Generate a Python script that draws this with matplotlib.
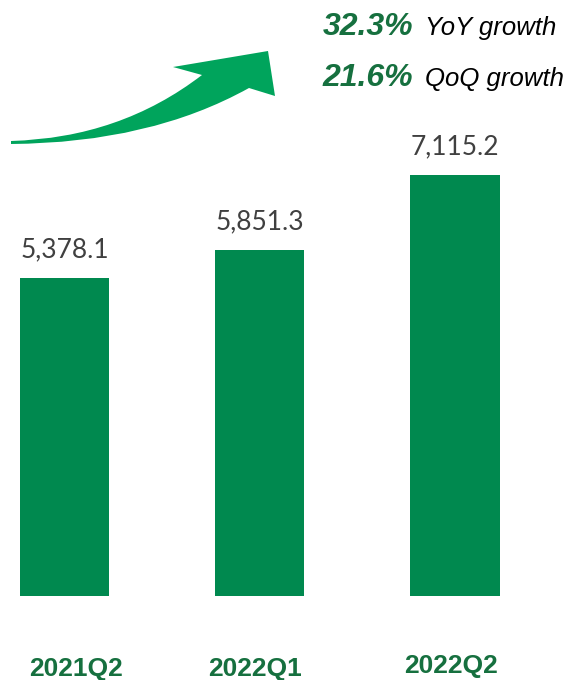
import matplotlib.pyplot as plt
from matplotlib.path import Path
from matplotlib.patches import PathPatch

# Data
quarters = ['2021Q2', '2022Q1', '2022Q2']
revenue = [5378.1, 5851.3, 7115.2]
yoy_growth = '32.3%'
qoq_growth = '21.6%'

# Colours
bar_green = '#00894F'
text_green = '#16703F'
arrow_green = '#00A45C'
value_grey = '#404040'

fig = plt.figure(figsize=(5.73, 6.80), dpi=100)

# Main bar axes: baseline sits 84 px above the bottom of the figure
ax = fig.add_axes([0, 84 / 680, 1, 596 / 680])
x = range(len(quarters))
bars = ax.bar(x, revenue, width=0.456, color=bar_green)
ax.set_xlim(-0.3303, 2.6044)
ax.set_ylim(0, 10068)
ax.axis('off')

# Value labels above the bars
for xi, v in zip(x, revenue):
    ax.annotate(f'{v:,.1f}', xy=(xi, v), xytext=(0, 14.5), textcoords='offset points',
                ha='center', va='baseline', fontsize=19, family='Lato', color=value_grey)

# Category labels below (slightly shifted like in the original slide)
label_dx = [12, -4.5, -3.5]
label_dy = [-80, -80, -77]
for xi, q, dx, dy in zip(x, quarters, label_dx, label_dy):
    ax.annotate(q, xy=(xi, 0), xytext=(dx * 0.72, dy * 0.72), textcoords='offset points',
                ha='center', va='baseline', fontsize=19, fontweight='bold',
                family='Liberation Sans', color=text_green)

# Overlay axes in pixel coordinates for the arrow and growth text
ov = fig.add_axes([0, 0, 1, 1])
ov.set_xlim(0, 573)
ov.set_ylim(680, 0)
ov.axis('off')

verts = [(11, 141), (120, 138), (202, 75), (173, 67), (268, 51), (275, 96),
         (249, 88), (150, 143), (11, 144), (11, 141)]
codes = [Path.MOVETO, Path.CURVE3, Path.CURVE3, Path.LINETO, Path.LINETO, Path.LINETO,
         Path.LINETO, Path.CURVE3, Path.CURVE3, Path.CLOSEPOLY]
ov.add_patch(PathPatch(Path(verts, codes), facecolor=arrow_green, edgecolor='none'))

ov.text(323, 35, yoy_growth, fontsize=23, fontweight='bold', style='italic',
        family='Liberation Sans', color=text_green, va='baseline', ha='left')
ov.text(425, 35, 'YoY growth', fontsize=18.5, style='italic',
        family='Liberation Sans', color='black', va='baseline', ha='left')
ov.text(323, 86, qoq_growth, fontsize=23, fontweight='bold', style='italic',
        family='Liberation Sans', color=text_green, va='baseline', ha='left')
ov.text(425, 86, 'QoQ growth', fontsize=18.5, style='italic',
        family='Liberation Sans', color='black', va='baseline', ha='left')

fig.savefig('out.png', dpi=100)
